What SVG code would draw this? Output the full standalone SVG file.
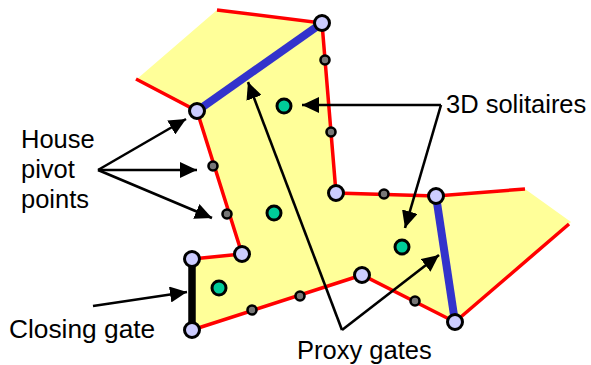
<svg xmlns="http://www.w3.org/2000/svg" width="591" height="365" viewBox="0 0 591 365">
<defs>
<marker id="ah" markerUnits="userSpaceOnUse" markerWidth="18" markerHeight="16" refX="17" refY="8" orient="auto"><path d="M0 0L17 8L0 16Z" fill="#000"/></marker>
</defs>
<style>
.l{font-family:"Liberation Sans",Arial,sans-serif;font-size:25.5px;fill:#000}
.r{fill:none;stroke:#f00;stroke-width:3.5}
.a2{stroke:#000;stroke-width:2.6;marker-end:url(#ah)}
.b{fill:#ccf;stroke:#000;stroke-width:3}
.s{fill:#777;stroke:#000;stroke-width:2.6}
.g{fill:#0c9;stroke:#000;stroke-width:3}
</style>
<g id="house"><path d="M217 10L322 23L336 193L436 196L525 189L571 222L455 322L362 275L192 330L192 259L242 254L197 111L137 79Z" fill="#ff9"/></g>
<g id="connectors">
<path class="r" d="M217 10L322 23L336 193L436 196L525 189"/>
<path class="r" d="M569 224L455 322L362 275L192 330"/>
<path class="r" d="M192 259L242 254L197 111L136 79"/>
<path d="M197 111L322 23" stroke="#33c" stroke-width="8" fill="none"/>
<path d="M436 196L455 322" stroke="#33c" stroke-width="8" fill="none"/>
<path d="M192 259L192 330" stroke="#000" stroke-width="7.5" fill="none"/>
<line class="a2" x1="98" y1="170" x2="186" y2="119"/>
<line class="a2" x1="98" y1="170" x2="197" y2="170"/>
<line class="a2" x1="98" y1="170" x2="212" y2="218"/>
<line class="a2" x1="93" y1="306" x2="187" y2="292"/>
<line class="a2" x1="441" y1="105" x2="302" y2="105"/>
<line class="a2" x1="441" y1="105" x2="405" y2="228"/>
<line class="a2" x1="342" y1="330" x2="248" y2="82"/>
<line class="a2" x1="342" y1="330" x2="439" y2="255"/>
</g>
<g id="gates">
<circle class="b" cx="197" cy="111" r="7.5"/><circle class="b" cx="322" cy="23" r="7.5"/><circle class="b" cx="336" cy="193" r="7.5"/><circle class="b" cx="436" cy="196" r="7.5"/><circle class="b" cx="455" cy="322" r="7.5"/><circle class="b" cx="362" cy="275" r="7.5"/><circle class="b" cx="242" cy="254" r="7.5"/><circle class="b" cx="192" cy="259" r="7.5"/><circle class="b" cx="192" cy="330" r="7.5"/>
</g>
<g id="pivots">
<circle class="s" cx="325" cy="60" r="4.5"/><circle class="s" cx="331" cy="132" r="4.5"/><circle class="s" cx="213" cy="166" r="4.5"/><circle class="s" cx="227" cy="214" r="4.5"/><circle class="s" cx="384" cy="194" r="4.5"/><circle class="s" cx="415" cy="301" r="4.5"/><circle class="s" cx="300" cy="296" r="4.5"/><circle class="s" cx="252" cy="310" r="4.5"/>
</g>
<g id="solitaires">
<circle class="g" cx="284" cy="106" r="7"/><circle class="g" cx="274" cy="213" r="7"/><circle class="g" cx="402" cy="247" r="7"/><circle class="g" cx="219" cy="288" r="7"/>
</g>
<g id="labels">
<text class="l" x="21" y="148">House</text>
<text class="l" x="21" y="178">pivot</text>
<text class="l" x="21" y="208">points</text>
<text class="l" x="9" y="338" style="font-size:26.3px">Closing gate</text>
<text class="l" x="297" y="359">Proxy gates</text>
<text class="l" x="446" y="113">3D solitaires</text>
</g>
</svg>
